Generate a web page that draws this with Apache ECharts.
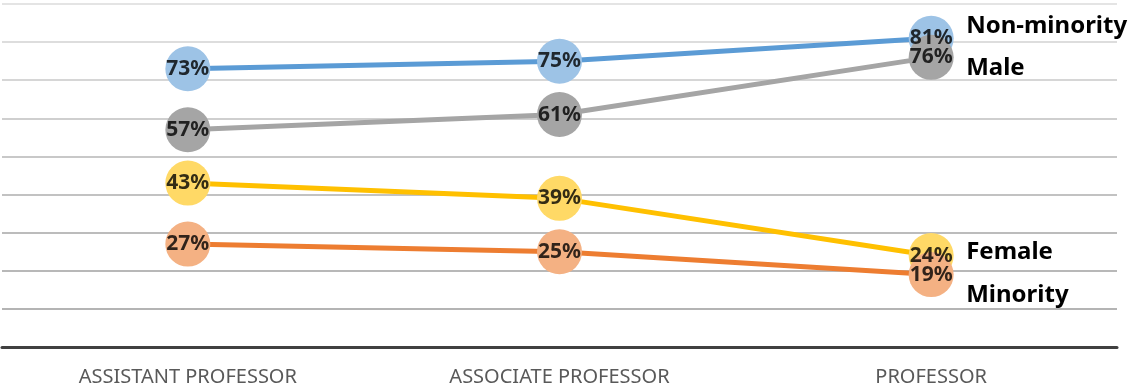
<!DOCTYPE html>
<html><head><meta charset="utf-8">
<script src="https://cdn.jsdelivr.net/npm/echarts@6/dist/echarts.min.js"></script>
<style>html,body{margin:0;padding:0;background:#fff}#c{width:1132px;height:389px}</style>
</head><body><div id="c"></div>
<script>
const categories = ['ASSISTANT PROFESSOR', 'ASSOCIATE PROFESSOR', 'PROFESSOR'];
const seriesNames = ['Non-minority', 'Male', 'Female', 'Minority'];
const nonMinority = [73, 75, 81];
const male = [57, 61, 76];
const female = [43, 39, 24];
const minority = [27, 25, 19];

const styles = [
  {line: '#5B9BD5', marker: '#9DC3E6', off: [27, -12]},
  {line: '#A5A5A5', marker: '#A5A5A5', off: [27, 11]},
  {line: '#FFC000', marker: '#FFD966', off: [27, -3]},
  {line: '#ED7D31', marker: '#F4B183', off: [27, 21]}
];
const values = [nonMinority, male, female, minority];

const lineSeries = values.map((v, i) => ({
  name: seriesNames[i], type: 'line', data: v,
  symbol: 'circle', symbolSize: 45,
  lineStyle: {color: styles[i].line, width: 5},
  itemStyle: {color: styles[i].marker},
  label: {show: false},
  endLabel: {show: true, formatter: '{a}', color: '#000', fontFamily: 'Noto Sans',
    fontWeight: 'bold', fontSize: 24, offset: styles[i].off, align: 'left'},
  z: 2 + i
}));
const labelSeries = values.map((v, i) => ({
  name: seriesNames[i] + ' labels', type: 'scatter', data: v,
  symbolSize: 1, itemStyle: {color: 'rgba(0,0,0,0)'},
  label: {show: true, position: 'inside', formatter: '{c}%', color: '#000',
    fontFamily: 'Noto Sans', fontWeight: 'bold', fontSize: 21},
  silent: true, z: 20
}));

const chart = echarts.init(document.getElementById('c'), null, {renderer: 'canvas'});
chart.setOption({
  animation: false,
  grid: {left: 2, right: 15, top: 4, bottom: 42, containLabel: false},
  xAxis: {
    type: 'category', data: categories, boundaryGap: true,
    axisLine: {lineStyle: {color: '#404040', width: 3}},
    axisTick: {show: false},
    axisLabel: {color: '#595959', fontFamily: 'Noto Sans', fontSize: 20, margin: 20}
  },
  yAxis: {
    type: 'value', min: 0, max: 90, interval: 10,
    axisLine: {show: false}, axisTick: {show: false}, axisLabel: {show: false},
    splitLine: {lineStyle: {color: ['#b0b0b0','#b4b4b4','#b8b8b8','#bcbcbc','#c2c2c2','#c8c8c8','#cfcfcf','#d6d6d6','#dddddd','#e4e4e4'], width: 2}}
  },
  series: lineSeries.concat(labelSeries)
});
</script></body></html>
